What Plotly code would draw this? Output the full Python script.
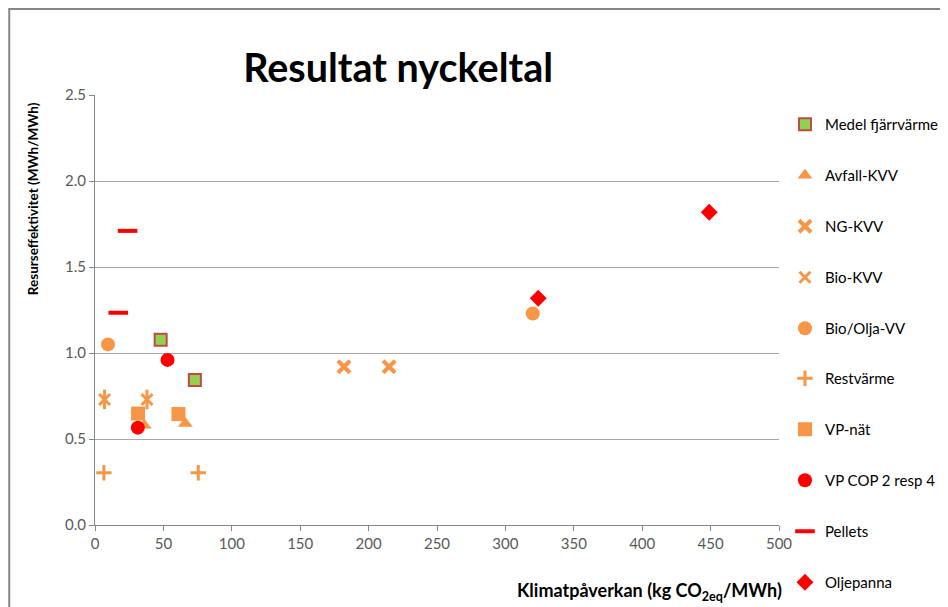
import plotly.graph_objects as go

# ---- data ----
series_names = ["Medel fjärrvärme", "Avfall-KVV", "NG-KVV", "Bio-KVV", "Bio/Olja-VV",
                "Restvärme", "VP-nät", "VP COP 2 resp 4", "Pellets", "Oljepanna"]
medel_x = [48, 73];      medel_y = [1.077, 0.843]
avfall_x = [36, 66];     avfall_y = [0.58, 0.59]
ng_x = [182, 215];       ng_y = [0.92, 0.92]
biokvv_x = [7, 38];      biokvv_y = [0.73, 0.73]
bioolja_x = [9.5, 320];  bioolja_y = [1.05, 1.23]
rest_x = [6.5, 75.5];    rest_y = [0.304, 0.304]
vpnat_x = [31.5, 61];    vpnat_y = [0.648, 0.645]
vpcop_x = [53, 31.3];    vpcop_y = [0.96, 0.566]
pellets_x = [17, 23.8];  pellets_y = [1.234, 1.71]
olje_x = [449, 324];     olje_y = [1.818, 1.318]

x_ticks = [0, 50, 100, 150, 200, 250, 300, 350, 400, 450, 500]
y_ticks = [0.0, 0.5, 1.0, 1.5, 2.0, 2.5]

ORANGE = "#F79646"
RED = "#FF0000"
GREEN = "#92D050"
BROWN = "#BE4B48"

fig = go.Figure()

def add(name, xs, ys, symbol, size, color, lc=None, lw=0, legend="legend", showlegend=True):
    fig.add_trace(go.Scatter(
        x=xs, y=ys, mode="markers", name=name,
        legendgroup=name, showlegend=showlegend, legend=legend,
        marker=dict(symbol=symbol, size=size, color=color,
                    line=dict(color=lc if lc else color, width=lw)),
    ))

add(series_names[0], medel_x, medel_y, "square", 12, GREEN, BROWN, 2)
add(series_names[1], avfall_x, avfall_y, "triangle-up", 13, ORANGE)
add(series_names[2], ng_x, ng_y, "x-thin-open", 12, ORANGE, ORANGE, 4)
add(series_names[3], biokvv_x, biokvv_y, "x-thin-open", 11, ORANGE, ORANGE, 3)
add(series_names[3], biokvv_x, biokvv_y, "line-ns-open", 14, ORANGE, ORANGE, 3, showlegend=False)
add(series_names[4], bioolja_x, bioolja_y, "circle", 14, ORANGE)
add(series_names[5], rest_x, rest_y, "cross-thin-open", 11, ORANGE, ORANGE, 3, legend="legend2")
add(series_names[6], vpnat_x, vpnat_y, "square", 14, ORANGE, legend="legend2")
add(series_names[7], vpcop_x, vpcop_y, "circle", 14, RED, legend="legend2")
add(series_names[8], pellets_x, pellets_y, "line-ew-open", 14, RED, RED, 4, legend="legend2")
add(series_names[9], olje_x, olje_y, "diamond", 13, RED, legend="legend2")

GRID = "#A6A6A6"
AX = "#868686"
FONT = "Lato"

# the page body shifts the figure by 8px right and down
OFF = 8
W, H = 948, 607
PL, PR, PT, PB = 95 - OFF, 781 - OFF, 95 - OFF, 525 - OFF   # plot area (fig px)

def sx(px): return (px - OFF - PL) / (PR - PL)     # screen px -> paper x
def sy(py): return (PB - (py - OFF)) / (PB - PT)   # screen px -> paper y

legend_common = dict(xanchor="left", yanchor="top",
                     font=dict(family=FONT, size=15, color="black"),
                     tracegroupgap=28.5, bgcolor="rgba(0,0,0,0)", itemclick=False)

fig.update_layout(
    width=W, height=H,
    margin=dict(l=PL, r=W - PR, t=PT, b=H - PB),
    paper_bgcolor="white", plot_bgcolor="white",
    font=dict(family=FONT, size=14, color="#595959"),
    title=dict(text="<b>Resultat nyckeltal</b>", x=sx(399), xref="paper",
               xanchor="center", y=1 - (68 - OFF) / H, yanchor="middle",
               font=dict(family=FONT, size=39.5, color="black")),
    xaxis=dict(range=[0, 500], tickvals=x_ticks, ticktext=[str(v) for v in x_ticks],
               showgrid=False, showline=True, linecolor=AX, linewidth=1,
               ticks="outside", ticklen=5, tickcolor=AX, zeroline=False,
               tickfont=dict(size=15, color="#595959")),
    yaxis=dict(range=[0, 2.5], tickvals=y_ticks, ticktext=[f"{v:.1f}" for v in y_ticks],
               showgrid=True, gridcolor=GRID, gridwidth=1,
               showline=True, linecolor=AX, linewidth=1,
               ticks="outside", ticklen=5, tickcolor=AX, zeroline=False,
               tickfont=dict(size=15, color="#595959")),
    legend=dict(x=sx(787), y=sy(108), **legend_common),
    legend2=dict(x=sx(787), y=sy(362), **legend_common),
    showlegend=True,
)

fig.add_annotation(text="<b>Resurseffektivitet (MWh/MWh)</b>", textangle=-90,
                   xref="paper", yref="paper", x=sx(33), y=sy(199),
                   xanchor="center", yanchor="middle", showarrow=False,
                   font=dict(family=FONT, size=13.5, color="black"))
fig.add_annotation(text="<b>Klimatpåverkan (kg CO<sub>2eq</sub>/MWh)</b>",
                   xref="paper", yref="paper", x=sx(786), y=sy(591),
                   xanchor="right", yanchor="middle", showarrow=False,
                   font=dict(family=FONT, size=18, color="black"))

# outer chart border (top and left edges visible)
fig.add_shape(type="path", xref="paper", yref="paper",
              path=f"M {sx(9)} {sy(620)} L {sx(9)} {sy(9)} L {sx(960)} {sy(9)}",
              line=dict(color=AX, width=2))

fig.write_html("out.html")
